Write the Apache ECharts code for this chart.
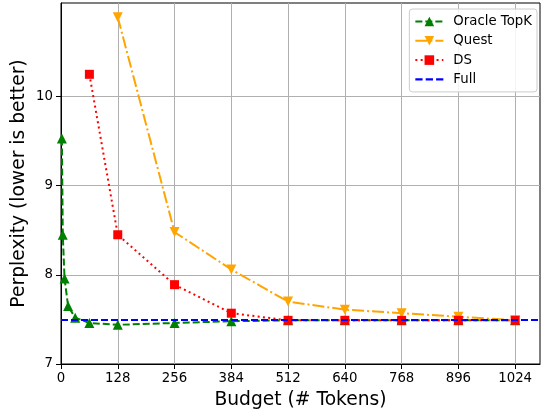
<!DOCTYPE html>
<html><head><meta charset="utf-8">
<script src="https://cdn.jsdelivr.net/npm/echarts@6/dist/echarts.min.js"></script>
<style>html,body{margin:0;padding:0;background:#fff}#c{width:542px;height:412px}</style>
</head><body><div id="c"></div>
<script>
const oracleX = [2, 4, 8, 16, 32, 64, 128, 256, 384, 512, 640, 768, 896, 1024];
const oracleY = [9.53, 8.45, 7.96, 7.65, 7.52, 7.46, 7.44, 7.46, 7.48, 7.49, 7.49, 7.49, 7.49, 7.49];
const questX = [128, 256, 384, 512, 640, 768, 896, 1024];
const questY = [10.89, 8.48, 8.06, 7.70, 7.61, 7.57, 7.53, 7.49];
const dsX = [64, 128, 256, 384, 512, 640, 768, 896, 1024];
const dsY = [10.25, 8.45, 7.89, 7.57, 7.49, 7.49, 7.49, 7.49, 7.49];
const fullY = 7.50;
const xTicks = [0, 128, 256, 384, 512, 640, 768, 896, 1024];
const yTicks = [7, 8, 9, 10];
const xMax = 1080, yMin = 7, yMax = 11.05;

const zip = (xs, ys) => xs.map((x, i) => [x, ys[i]]);
const font = 'DejaVu Sans';
const chart = echarts.init(document.getElementById('c'));
chart.setOption({
  animation: false,
  textStyle: {fontFamily: font},
  grid: {left: 61, right: 2, top: 3, bottom: 48, containLabel: false, outerBoundsMode: 'none',
         show: true, borderColor: '#000', borderWidth: 1, backgroundColor: 'transparent'},
  legend: {
    orient: 'vertical', right: 5, top: 9, itemWidth: 28, itemHeight: 12, itemGap: 3.3,
    padding: [4.5, 5, 4.5, 5], backgroundColor: 'rgba(255,255,255,0.85)', borderColor: '#cccccc', borderWidth: 1, borderRadius: 3,
    textStyle: {fontFamily: font, fontSize: 13.3, color: '#000', lineHeight: 16, padding: [0, 0, 0, 5]},
    data: ['Oracle TopK', 'Quest', 'DS',
      {name: 'Full', icon: 'path://M0,0h7v2h-7z M10,0h7v2h-7z M20,0h7v2h-7z', itemStyle: {color: '#0000FF'}}]
  },
  xAxis: {
    type: 'value', min: 0, max: xMax, interval: 128,
    name: 'Budget (# Tokens)', nameLocation: 'middle', nameGap: 26.5,
    nameTextStyle: {fontFamily: font, fontSize: 18.7, color: '#000'},
    axisLine: {show: true, onZero: false, lineStyle: {color: '#000', width: 1}},
    axisTick: {show: true, length: 5, lineStyle: {color: '#000'}, customValues: xTicks},
    axisLabel: {fontFamily: font, fontSize: 13.3, color: '#000', margin: 8, customValues: xTicks, formatter: v => String(v)},
    splitLine: {show: true, lineStyle: {color: '#b0b0b0', width: 1}}
  },
  yAxis: {
    type: 'value', min: yMin, max: yMax, interval: 1,
    name: 'Perplexity (lower is better)', nameLocation: 'middle', nameGap: 32.5, nameMoveOverlap: false,
    nameTextStyle: {fontFamily: font, fontSize: 18.7, color: '#000'},
    axisLine: {show: true, lineStyle: {color: '#000', width: 1}},
    axisTick: {show: true, length: 5, lineStyle: {color: '#000'}, customValues: yTicks},
    axisLabel: {fontFamily: font, fontSize: 13.3, color: '#000', margin: 8, customValues: yTicks, formatter: v => String(v)},
    splitLine: {show: true, lineStyle: {color: '#b0b0b0', width: 1}}
  },
  series: [
    {name: 'Oracle TopK', type: 'line', data: zip(oracleX, oracleY), symbol: 'triangle', symbolSize: 10,
     itemStyle: {color: '#008000'}, lineStyle: {color: '#008000', width: 2, type: [7, 3]}},
    {name: 'Quest', type: 'line', data: zip(questX, questY), symbol: 'triangle', symbolRotate: 180, symbolSize: 10,
     itemStyle: {color: '#FFA500'}, lineStyle: {color: '#FFA500', width: 2, type: [12, 3, 2, 3]}},
    {name: 'DS', type: 'line', data: zip(dsX, dsY), symbol: 'rect', symbolSize: 9,
     itemStyle: {color: '#FF0000'}, lineStyle: {color: '#FF0000', width: 2, type: [2, 3.3]}},
    {name: 'Full', type: 'line', data: [], symbol: 'none', z: 5,
     itemStyle: {color: '#0000FF'}, lineStyle: {color: '#0000FF', width: 2, type: [7, 3]},
     markLine: {silent: true, symbol: 'none', label: {show: false},
       lineStyle: {color: '#0000FF', width: 2, type: [7, 3]}, data: [{yAxis: fullY}]}}
  ]
});
</script></body></html>
